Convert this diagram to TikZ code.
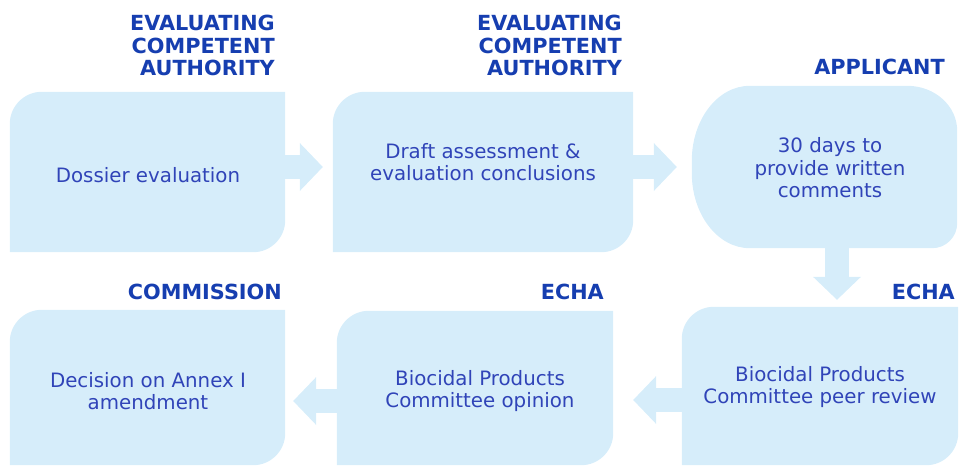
\documentclass[tikz,border=0pt]{standalone}
\usepackage{fontspec}
\setmainfont{DejaVu Sans}
\usetikzlibrary{arrows.meta}
\definecolor{boxfill}{RGB}{214,237,250}
\definecolor{headblue}{RGB}{22,62,176}
\definecolor{textblue}{RGB}{48,68,184}
\newcommand\tlbrbox[2]{\fill[boxfill] (#1.south west) -- ([yshift=-#2pt]#1.north west) arc[start angle=180,end angle=90,radius=#2pt] -- (#1.north east) -- ([yshift=#2pt]#1.south east) arc[start angle=0,end angle=-90,radius=#2pt] -- cycle;}
\begin{document}
\begin{tikzpicture}[x=1pt,y=1pt,
  area/.style={rectangle, inner sep=0pt, draw=none},
  body/.style={text=textblue, align=center, inner sep=0pt, font=\fontsize{19.8}{22.5}\selectfont},
  head/.style={text=headblue, align=right, anchor=east, inner sep=0pt, font=\fontsize{20.8}{22.5}\selectfont\bfseries},
  flow/.style={draw=boxfill, line width=24pt, -{Triangle[length=23pt,width=48pt,line width=0pt]}}]
\useasboundingbox (0,0) rectangle (962,467);
% box areas
\node[area, minimum width=275pt, minimum height=160pt] (b1) at (147.5,295) {};
\node[area, minimum width=300pt, minimum height=160pt] (b2) at (483,295) {};
\node[area, minimum width=265pt, minimum height=162pt] (app) at (824.5,300) {};
\node[area, minimum width=276pt, minimum height=158pt] (b4) at (820,81) {};
\node[area, minimum width=276pt, minimum height=154pt] (b5) at (475,79) {};
\node[area, minimum width=275pt, minimum height=155pt] (b6) at (147.5,79.5) {};
% shapes
\tlbrbox{b1}{32}
\tlbrbox{b2}{32}
\tlbrbox{b4}{32}
\tlbrbox{b5}{32}
\tlbrbox{b6}{32}
\fill[boxfill] ([xshift=58pt]app.north west) -- ([xshift=-50pt]app.north east)
  arc[start angle=90,end angle=0,x radius=50pt,y radius=45pt]
  -- ([yshift=25pt]app.south east)
  arc[start angle=0,end angle=-90,radius=25pt]
  -- ([xshift=58pt]app.south west)
  arc[start angle=270,end angle=180,x radius=58pt,y radius=75pt]
  -- ([yshift=-75pt]app.north west)
  arc[start angle=180,end angle=90,x radius=58pt,y radius=75pt] -- cycle;
% arrows
\draw[flow, shorten >=10pt] ([yshift=5pt]b1.east) -- ([yshift=5pt]b2.west);
\draw[flow, shorten >=15pt] ([yshift=5pt]b2.east) -- (app.west);
\draw[flow, shorten >=7pt] ([xshift=12.5pt]app.south) -- ([xshift=17pt]b4.north);
\draw[flow, shorten >=20pt] ([yshift=-14pt]b4.west) -- ([yshift=-12pt]b5.east);
\draw[flow, shorten >=8pt] ([yshift=-13pt]b5.west) -- ([yshift=-13.5pt]b6.east);
% texts
\node[body] (t1) at (148,292) {Dossier evaluation};
\node[body] (t2) at (483,305) {Draft assessment \&\\evaluation conclusions};
\node[body] (t3) at (830,299) {30 days to\\provide written\\comments};
\node[body] (t4) at (820,80) {Biocidal Products\\Committee peer review};
\node[body] (t5) at (480,76) {Biocidal Products\\Committee opinion};
\node[body] (t6) at (148,76) {Decision on Annex I\\amendment};
% headers
\node[head] (h1) at (275,421.5) {EVALUATING\\COMPETENT\\AUTHORITY};
\node[head] (h2) at (622,421.5) {EVALUATING\\COMPETENT\\AUTHORITY};
\node[head] (h3) at (945,400) {APPLICANT};
\node[head] (h4) at (955,175) {ECHA};
\node[head] (h5) at (604,175) {ECHA};
\node[head] (h6) at (282,175) {COMMISSION};
\end{tikzpicture}
\end{document}
